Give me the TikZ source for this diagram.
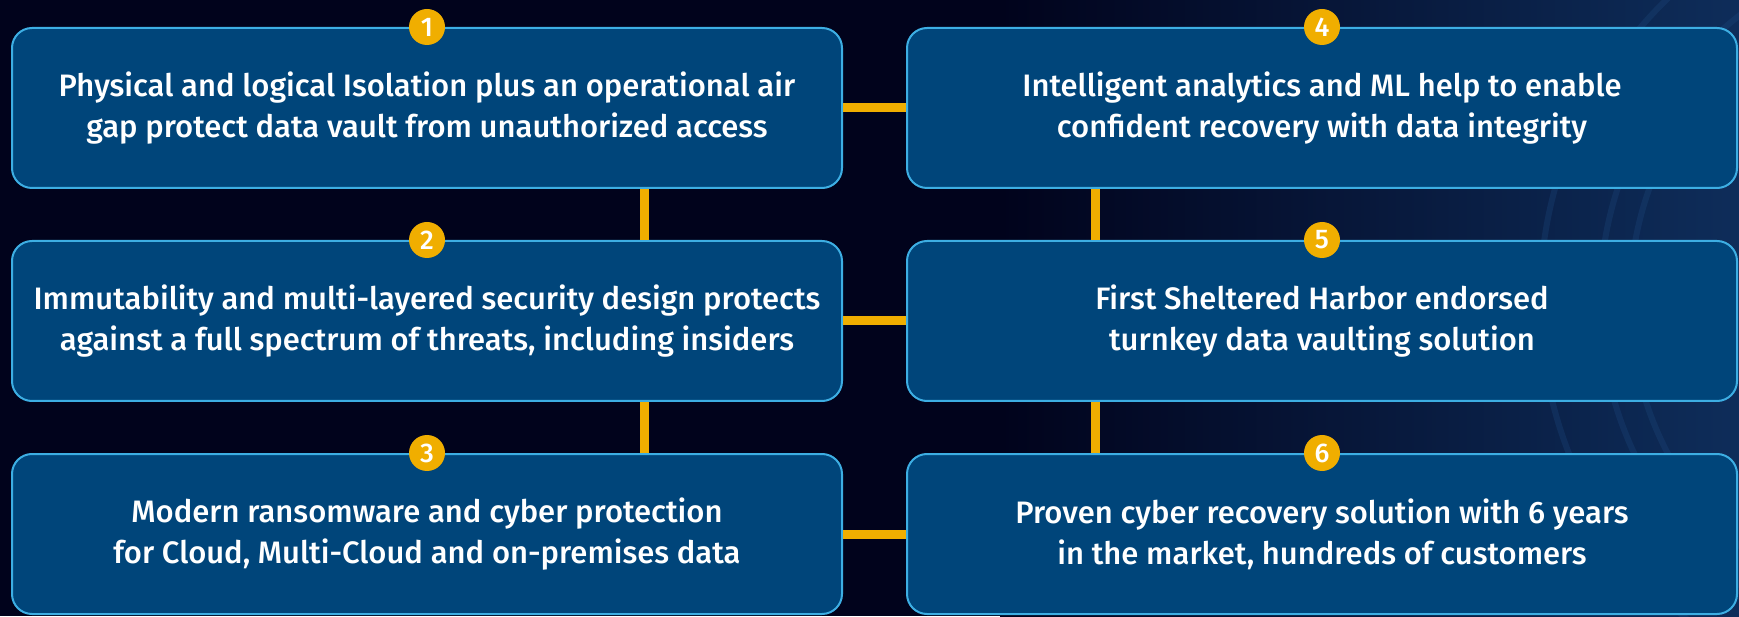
\documentclass[tikz,border=0pt]{standalone}
\usepackage{fontspec}
\setmainfont{Fira Sans}[BoldFont={Fira Sans Medium}]
\usepackage{xcolor}
\definecolor{vaultBg}{HTML}{01031C}
\definecolor{vaultBgBlue}{HTML}{0E2D5A}
\definecolor{vaultRing}{HTML}{1E4A80}
\definecolor{vaultBox}{HTML}{00457A}
\definecolor{vaultBorder}{HTML}{3DAEE3}
\definecolor{vaultGold}{HTML}{F0AE00}
\usetikzlibrary{positioning,calc}
\tikzset{
    card/.style={
        draw=vaultBorder,
        fill=vaultBox,
        rectangle,
        rounded corners=20pt,
        line width=2pt,
        align=center,
        minimum width=830pt,
        minimum height=160pt,
        text=white,
        font=\fontsize{31}{41}\selectfont\bfseries
    },
    badge/.style={
        circle,
        fill=vaultGold,
        minimum size=36pt,
        inner sep=0pt,
        text=white,
        font=\fontsize{27}{27}\selectfont\bfseries
    },
    link/.style={
        draw=vaultGold,
        line width=9pt
    }
}

\begin{document}
\begin{tikzpicture}[x=1pt,y=1pt]
    % background
    \fill[vaultBg] (0,0) rectangle (1739,616);
    \shade[left color=vaultBg, right color=vaultBgBlue, draw=none] (1000,0) rectangle (1739,616);
    \begin{scope}
        \clip (1300,0) rectangle (1739,616);
        \foreach \r in {330,360,420}
            \draw[vaultRing, opacity=0.3, line width=6pt] (1960,316) circle (\r);
    \end{scope}
    \useasboundingbox (0,0) rectangle (1739,616);

    \node[card] (b1) at (427,508) {Physical and logical Isolation plus an operational air\\gap protect data vault from unauthorized access};
    \node[card, below=51pt of b1] (b2) {Immutability and multi-layered security design protects\\against a full spectrum of threats, including insiders};
    \node[card, below=51pt of b2] (b3) {Modern ransomware and cyber protection\\for Cloud, Multi-Cloud and on-premises data};
    \node[card, right=63pt of b1] (b4) {Intelligent analytics and ML help to enable\\confident recovery with data integrity};
    \node[card, right=63pt of b2] (b5) {First Sheltered Harbor endorsed\\turnkey data vaulting solution};
    \node[card, right=63pt of b3] (b6) {Proven cyber recovery solution with 6 years\\in the market, hundreds of customers};

    \coordinate (vL) at (644,0);
    \coordinate (vR) at (1095,0);

    % connectors
    \draw[link] (b1.east) -- (b4.west);
    \draw[link] (b2.east) -- (b5.west);
    \draw[link] (b3.east) -- (b6.west);
    \draw[link] (b1.south -| vL) -- (b2.north -| vL);
    \draw[link] (b2.south -| vL) -- (b3.north -| vL);
    \draw[link] (b4.south -| vR) -- (b5.north -| vR);
    \draw[link] (b5.south -| vR) -- (b6.north -| vR);

    \foreach \n in {1,...,6}
        \node[badge] (n\n) at (b\n.north) {\n};
\end{tikzpicture}
\end{document}
